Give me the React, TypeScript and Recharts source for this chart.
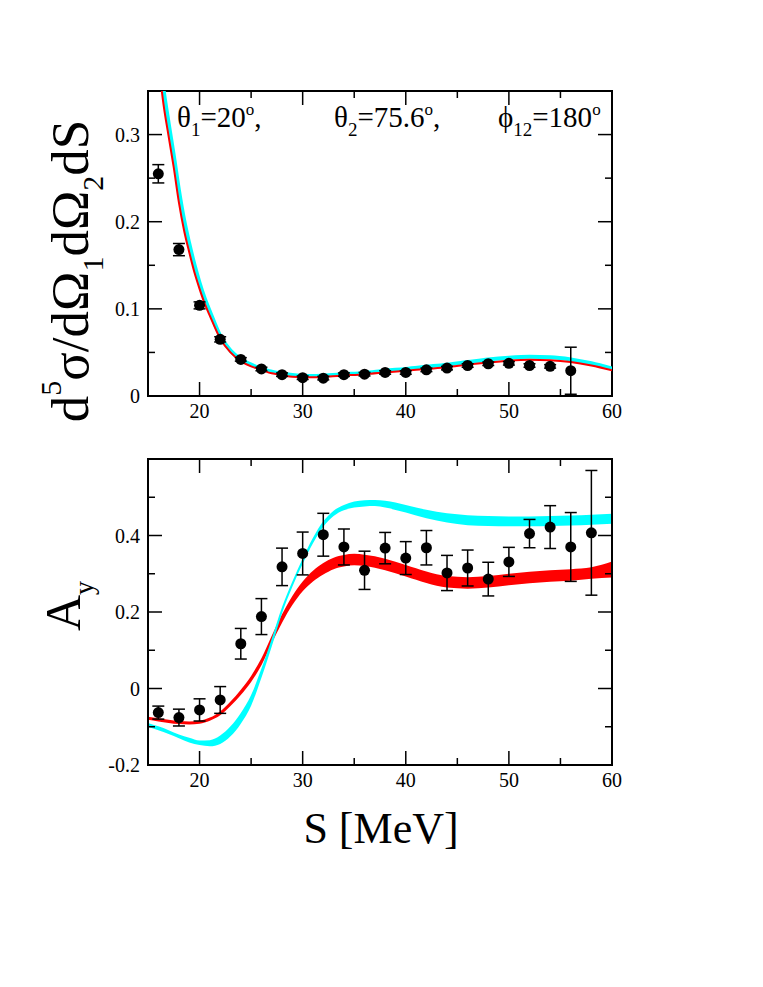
import React from "react";
import {
  Area,
  ComposedChart,
  ErrorBar,
  Line,
  ReferenceArea,
  Scatter,
  XAxis,
  YAxis,
} from "recharts";

// 上图：截面 d5σ/dΩ1dΩ2dS，下图：分析本领 Ay，横轴 S [MeV]
const FONT = "Liberation Serif, Times New Roman, serif";

// ---- 上图数据 ----
const topS = [16, 18, 20, 22, 24, 26, 28, 30, 32, 34, 36, 38, 40, 42, 44, 46, 48, 50, 52, 54, 56];
const topY = [0.255, 0.168, 0.104, 0.065, 0.042, 0.031, 0.0245, 0.021, 0.0205, 0.0245, 0.025, 0.027, 0.027, 0.03, 0.032, 0.035, 0.037, 0.0375, 0.035, 0.034, 0.029];
const topErr = [0.0105, 0.007, 0.004, 0.003, 0.002, 0.002, 0.002, 0.002, 0.002, 0.002, 0.002, 0.002, 0.002, 0.002, 0.002, 0.002, 0.002, 0.002, 0.002, 0.002, 0.027];

const curveS = [16, 16.5, 17, 17.5, 18, 18.5, 19, 19.5, 20, 20.5, 21, 22, 23, 24, 25, 26, 27, 28, 29, 30, 31, 32, 34, 36, 38, 40, 42, 44, 46, 48, 50, 52, 54, 56, 58, 60];
const topRed = [0.385, 0.335, 0.298, 0.262, 0.222, 0.19, 0.165, 0.142, 0.123, 0.106, 0.092, 0.066, 0.05, 0.04, 0.034, 0.03, 0.026, 0.024, 0.022, 0.0215, 0.0215, 0.022, 0.0235, 0.025, 0.027, 0.029, 0.031, 0.033, 0.036, 0.0385, 0.0405, 0.0415, 0.041, 0.039, 0.035, 0.0295];
const topCyan = [0.4, 0.352, 0.313, 0.276, 0.236, 0.202, 0.175, 0.151, 0.13, 0.112, 0.097, 0.069, 0.052, 0.042, 0.036, 0.031, 0.028, 0.0255, 0.024, 0.023, 0.023, 0.0235, 0.025, 0.0265, 0.029, 0.031, 0.0335, 0.036, 0.039, 0.042, 0.044, 0.045, 0.0445, 0.042, 0.0375, 0.0315];

// ---- 下图数据 ----
const botS = [16, 18, 20, 22, 24, 26, 28, 30, 32, 34, 36, 38, 40, 42, 44, 46, 48, 50, 52, 54, 56, 58];
const botY = [-0.063, -0.076, -0.056, -0.03, 0.117, 0.188, 0.318, 0.353, 0.402, 0.37, 0.309, 0.367, 0.341, 0.368, 0.302, 0.315, 0.286, 0.331, 0.405, 0.422, 0.37, 0.407];
const botErr = [0.017, 0.022, 0.029, 0.035, 0.04, 0.047, 0.049, 0.056, 0.056, 0.047, 0.05, 0.041, 0.043, 0.045, 0.046, 0.047, 0.044, 0.038, 0.037, 0.056, 0.09, 0.163];

const bandS = [15, 16, 17, 18, 19, 20, 21, 22, 23, 24, 25, 26, 27, 28, 29, 30, 31, 32, 33, 34, 35, 36, 37, 38, 40, 42, 44, 46, 48, 50, 52, 54, 56, 58, 60];
const redLow = [-0.082, -0.086, -0.09, -0.093, -0.094, -0.092, -0.084, -0.07, -0.046, -0.017, 0.017, 0.061, 0.118, 0.172, 0.218, 0.254, 0.28, 0.298, 0.312, 0.319, 0.322, 0.32, 0.316, 0.309, 0.293, 0.276, 0.264, 0.261, 0.264, 0.27, 0.275, 0.279, 0.282, 0.287, 0.29];
const redHigh = [-0.074, -0.078, -0.082, -0.085, -0.086, -0.084, -0.076, -0.06, -0.034, -0.003, 0.033, 0.079, 0.138, 0.194, 0.242, 0.28, 0.308, 0.328, 0.342, 0.349, 0.352, 0.35, 0.346, 0.339, 0.323, 0.306, 0.294, 0.291, 0.294, 0.3, 0.305, 0.309, 0.312, 0.317, 0.332];
const cyanLow = [-0.1, -0.109, -0.119, -0.13, -0.141, -0.148, -0.151, -0.145, -0.125, -0.092, -0.045, 0.028, 0.11, 0.197, 0.266, 0.326, 0.38, 0.423, 0.451, 0.466, 0.473, 0.476, 0.477, 0.473, 0.46, 0.445, 0.434, 0.427, 0.425, 0.424, 0.424, 0.425, 0.426, 0.428, 0.431];
const cyanHigh = [-0.09, -0.099, -0.109, -0.12, -0.129, -0.136, -0.135, -0.123, -0.099, -0.064, -0.017, 0.052, 0.13, 0.213, 0.28, 0.34, 0.394, 0.437, 0.465, 0.48, 0.489, 0.492, 0.493, 0.491, 0.48, 0.467, 0.458, 0.453, 0.451, 0.45, 0.45, 0.451, 0.452, 0.454, 0.457];

// ---- 刻度 ----
const xTicks = [20, 25, 30, 35, 40, 45, 50, 55, 60];
const xMajor = [20, 30, 40, 50, 60];
const topTicks = [0, 0.05, 0.1, 0.15, 0.2, 0.25, 0.3];
const topMajor = [0, 0.1, 0.2, 0.3];
const botTicks = [-0.2, -0.1, 0, 0.1, 0.2, 0.3, 0.4, 0.5];
const botMajor = [-0.2, 0, 0.2, 0.4];

const W = 763;
const PLOT_W = 464;
const TOP_H = 305;
const BOT_H = 306;

const topPoints = topS.map((s, i) => ({ s, y: topY[i], e: topErr[i] }));
const botPoints = botS.map((s, i) => ({ s, y: botY[i], e: botErr[i] }));
const topRedRows = curveS.map((s, i) => ({ s, v: topRed[i] }));
const topCyanRows = curveS.map((s, i) => ({ s, v: topCyan[i] }));
const redBand = bandS.map((s, i) => ({ s, band: [redLow[i], redHigh[i]] }));
const cyanBand = bandS.map((s, i) => ({ s, band: [cyanLow[i], cyanHigh[i]] }));

const fmt = (v: number) => (v === 0 ? "0" : String(v));
const serif = { fontFamily: FONT };

function makeXTick(plotH: number) {
  return (props: any) => {
    const { x, y, payload } = props;
    const v = payload.value as number;
    const major = xMajor.includes(v);
    const len = major ? 14 : 7;
    return (
      <g>
        <line x1={x} x2={x} y1={y} y2={y - len} stroke="#000" strokeWidth={1.5} />
        <line x1={x} x2={x} y1={y - plotH} y2={y - plotH + len} stroke="#000" strokeWidth={1.5} />
        {major && (
          <text x={x} y={y + 22} textAnchor="middle" fontSize={20} style={serif} fill="#000">
            {v}
          </text>
        )}
      </g>
    );
  };
}

function makeYTick(majors: number[]) {
  return (props: any) => {
    const { x, y, payload } = props;
    const v = payload.value as number;
    const major = majors.some((m) => Math.abs(m - v) < 1e-9);
    const len = major ? 14 : 7;
    return (
      <g>
        <line x1={x} x2={x + len} y1={y} y2={y} stroke="#000" strokeWidth={1.5} />
        <line x1={x + PLOT_W} x2={x + PLOT_W - len} y1={y} y2={y} stroke="#000" strokeWidth={1.5} />
        {major && (
          <text x={x - 8} y={y} dy="0.35em" textAnchor="end" fontSize={20} style={serif} fill="#000">
            {fmt(v)}
          </text>
        )}
      </g>
    );
  };
}

const dot = (p: any) => <circle cx={p.cx} cy={p.cy} r={5.5} fill="#000" />;

export default function App() {
  return (
    <div style={{ position: "absolute", left: 0, top: 0, width: W, height: 987, background: "#fff" }}>
      <div style={{ position: "absolute", left: 0, top: 0 }}>
        <ComposedChart width={W} height={450} margin={{ top: 91, right: 151, bottom: 24, left: 88 }}>
          <XAxis
            dataKey="s"
            type="number"
            domain={[15, 60]}
            ticks={xTicks}
            interval={0}
            height={30}
            tickSize={0}
            tickMargin={0}
            axisLine={false}
            tickLine={false}
            allowDataOverflow
            tick={makeXTick(TOP_H)}
          />
          <YAxis
            type="number"
            domain={[0, 0.35]}
            ticks={topTicks}
            interval={0}
            width={60}
            tickSize={0}
            tickMargin={0}
            axisLine={false}
            tickLine={false}
            allowDataOverflow
            tick={makeYTick(topMajor)}
          />
          <Line data={topCyanRows} dataKey="v" type="monotone" stroke="#00ffff" strokeWidth={4} dot={false} isAnimationActive={false} />
          <Line data={topRedRows} dataKey="v" type="monotone" stroke="#ff0000" strokeWidth={2} dot={false} isAnimationActive={false} />
          <Scatter data={topPoints} dataKey="y" shape={dot} isAnimationActive={false}>
            <ErrorBar dataKey="e" direction="y" width={6} stroke="#000" strokeWidth={1.5} isAnimationActive={false} />
          </Scatter>
          <ReferenceArea x1={15} x2={60} y1={0} y2={0.35} fill="none" stroke="#000" strokeWidth={2} />
        </ComposedChart>
      </div>
      <div style={{ position: "absolute", left: 0, top: 420 }}>
        <ComposedChart width={W} height={400} margin={{ top: 39, right: 151, bottom: 25, left: 88 }}>
          <XAxis
            dataKey="s"
            type="number"
            domain={[15, 60]}
            ticks={xTicks}
            interval={0}
            height={30}
            tickSize={0}
            tickMargin={0}
            axisLine={false}
            tickLine={false}
            allowDataOverflow
            tick={makeXTick(BOT_H)}
          />
          <YAxis
            type="number"
            domain={[-0.2, 0.6]}
            ticks={botTicks}
            interval={0}
            width={60}
            tickSize={0}
            tickMargin={0}
            axisLine={false}
            tickLine={false}
            allowDataOverflow
            tick={makeYTick(botMajor)}
          />
          <Area data={redBand} dataKey="band" type="monotone" stroke="none" fill="#ff0000" fillOpacity={1} isAnimationActive={false} />
          <Area data={cyanBand} dataKey="band" type="monotone" stroke="none" fill="#00ffff" fillOpacity={1} isAnimationActive={false} />
          <Scatter data={botPoints} dataKey="y" shape={dot} isAnimationActive={false}>
            <ErrorBar dataKey="e" direction="y" width={6} stroke="#000" strokeWidth={1.5} isAnimationActive={false} />
          </Scatter>
          <ReferenceArea x1={15} x2={60} y1={-0.2} y2={0.6} fill="none" stroke="#000" strokeWidth={2} />
        </ComposedChart>
      </div>
      <svg width={W} height={987} style={{ position: "absolute", left: 0, top: 0, pointerEvents: "none" }}>
        <g style={serif} fill="#000">
          <text x={177} y={127} fontSize={29}>
            θ<tspan fontSize={19} dy={9}>1</tspan>
            <tspan dy={-9}>=20</tspan>
            <tspan fontSize={17} dy={-12}>o</tspan>
            <tspan dy={12}>,</tspan>
          </text>
          <text x={334} y={127} fontSize={29}>
            θ<tspan fontSize={19} dy={9}>2</tspan>
            <tspan dy={-9}>=75.6</tspan>
            <tspan fontSize={17} dy={-12}>o</tspan>
            <tspan dy={12}>,</tspan>
          </text>
          <text x={498} y={127} fontSize={29}>
            ϕ<tspan fontSize={19} dy={9}>12</tspan>
            <tspan dy={-9}>=180</tspan>
            <tspan fontSize={17} dy={-12}>o</tspan>
          </text>
          <text transform="translate(88,271) rotate(-90)" textAnchor="middle" fontSize={53}>
            d<tspan fontSize={30} dy={-27}>5</tspan>
            <tspan dy={27}>σ/dΩ</tspan>
            <tspan fontSize={30} dy={15}>1</tspan>
            <tspan dy={-15}>dΩ</tspan>
            <tspan fontSize={30} dy={15}>2</tspan>
            <tspan dy={-15}>dS</tspan>
          </text>
          <text transform="translate(80,606) rotate(-90)" textAnchor="middle" fontSize={50}>
            A<tspan fontSize={28} dy={13}>y</tspan>
          </text>
          <text x={381} y={843} textAnchor="middle" fontSize={44}>
            S [MeV]
          </text>
        </g>
      </svg>
    </div>
  );
}
